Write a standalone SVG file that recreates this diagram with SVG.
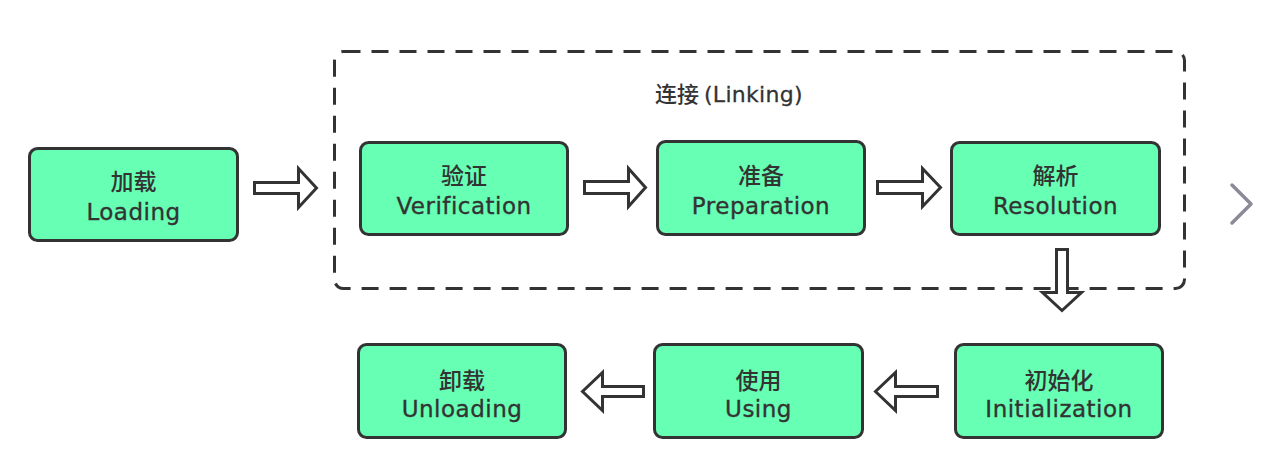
<svg xmlns="http://www.w3.org/2000/svg" width="1271" height="457" viewBox="0 0 1271 457">
<style>
.node{fill:#66ffb3;stroke:#333;stroke-width:3}
.cn{font-family:"Noto Sans CJK SC","Noto Sans",sans-serif;font-size:23px;font-weight:500;fill:#333;text-anchor:middle}
.en{font-family:"DejaVu Sans","Noto Sans",sans-serif;font-size:23px;letter-spacing:0.5px;fill:#333;stroke:#333;stroke-width:0.35;text-anchor:middle}
.arr{fill:#fff;stroke:#333;stroke-width:3;stroke-linejoin:miter}
</style>
<rect width="1271" height="457" fill="#fff"/>
<g id="linking">
<rect x="334.5" y="51.5" width="850" height="237" rx="9" fill="none" stroke="#333" stroke-width="3" stroke-dasharray="17 11"/>
<text x="655" y="102" font-family="Noto Sans CJK SC,sans-serif" font-size="22" font-weight="500" fill="#333">连接 <tspan font-family="DejaVu Sans,sans-serif" font-weight="400" stroke="#333" stroke-width="0.3" letter-spacing="0.3">(Linking)</tspan></text>
</g>
<g id="loading">
<rect class="node" x="29.5" y="148.5" width="208" height="92" rx="8"/>
<text class="cn" x="133.5" y="190">加载</text>
<text class="en" x="133.5" y="220">Loading</text>
</g>
<g id="verification">
<rect class="node" x="360.5" y="142.5" width="207" height="92" rx="8"/>
<text class="cn" x="464" y="184">验证</text>
<text class="en" x="464" y="214">Verification</text>
</g>
<g id="preparation">
<rect class="node" x="657.5" y="141.5" width="207" height="93" rx="8"/>
<text class="cn" x="761" y="184">准备</text>
<text class="en" x="761" y="214">Preparation</text>
</g>
<g id="resolution">
<rect class="node" x="951.5" y="142.5" width="208" height="92" rx="8"/>
<text class="cn" x="1055.5" y="184">解析</text>
<text class="en" x="1055.5" y="214">Resolution</text>
</g>
<g id="initialization">
<rect class="node" x="955.5" y="344.5" width="207" height="93" rx="8"/>
<text class="cn" x="1059" y="389">初始化</text>
<text class="en" x="1059" y="417">Initialization</text>
</g>
<g id="using">
<rect class="node" x="654.5" y="344.5" width="208" height="93" rx="8"/>
<text class="cn" x="758.5" y="389">使用</text>
<text class="en" x="758.5" y="417">Using</text>
</g>
<g id="unloading">
<rect class="node" x="358.5" y="344.5" width="207" height="93" rx="8"/>
<text class="cn" x="462" y="389">卸载</text>
<text class="en" x="462" y="417">Unloading</text>
</g>
<g id="connectors">
<path class="arr" d="M254.5,182.5 H298.5 V168.5 L316.5,188 L298.5,207.5 V193.5 H254.5 Z"/>
<path class="arr" d="M584.5,181.5 H628.5 V168.5 L645.5,187.5 L628.5,206.5 V193.5 H584.5 Z"/>
<path class="arr" d="M877.5,181.5 H922.5 V168.5 L940.5,187.5 L922.5,206.5 V193.5 H877.5 Z"/>
<path class="arr" d="M1056.5,249.5 V292.5 H1042.5 L1062,310.5 L1081.5,292.5 H1067.5 V249.5 Z"/>
<path class="arr" d="M937.5,386.5 H895.5 V372.5 L875.5,391.5 L895.5,410.5 V396.5 H937.5 Z"/>
<path class="arr" d="M643.5,386.5 H602.5 V372.5 L582.5,391.5 L602.5,410.5 V396.5 H643.5 Z"/>
</g>
<path d="M1232,185 L1251,204 L1232,223" fill="none" stroke="#8a8a99" stroke-width="3.5" stroke-linecap="round" stroke-linejoin="round"/>
</svg>
